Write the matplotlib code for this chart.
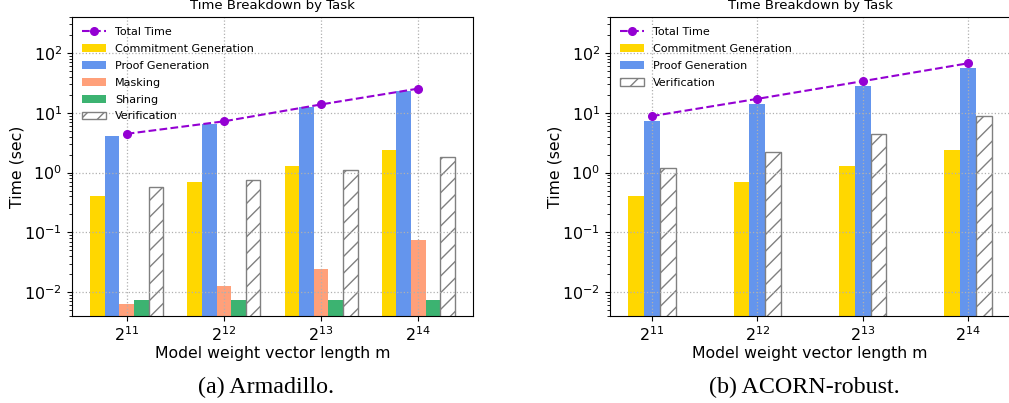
import numpy as np
import matplotlib
matplotlib.use('Agg')
import matplotlib.pyplot as plt

sizes = ['$2^{11}$', '$2^{12}$', '$2^{13}$', '$2^{14}$']

# (a) Armadillo
arm_total = [4.45, 7.2, 13.8, 25.4]
arm_commit = [0.40, 0.69, 1.27, 2.42]
arm_proof = [4.1, 6.6, 12.4, 23.6]
arm_mask = [0.0063, 0.0127, 0.0245, 0.0736]
arm_share = [0.0074, 0.0074, 0.0074, 0.0074]
arm_verif = [0.57, 0.74, 1.11, 1.80]

# (b) ACORN-robust
acorn_total = [8.8, 17.1, 33.8, 67.3]
acorn_commit = [0.40, 0.69, 1.27, 2.42]
acorn_proof = [7.4, 14.1, 28.2, 56.2]
acorn_verif = [1.18, 2.24, 4.4, 8.8]

c_commit = '#FFD700'
c_proof = '#6495ED'
c_mask = '#FFA07A'
c_share = '#3CB371'
c_total = '#9400D3'

W, H = 1009, 403
fig = plt.figure(figsize=(W / 100, H / 100), dpi=100)
ax1 = fig.add_axes([72 / W, 1 - 316 / H, 401 / W, 299 / H])
ax2 = fig.add_axes([610 / W, 1 - 316 / H, 400 / W, 299 / H])

x = np.arange(len(sizes))
w = 0.15

def style(ax):
    ax.set_yscale('log')
    ax.set_ylim(0.004, 400)
    ax.set_xticks(x)
    ax.set_xticklabels(sizes, fontsize=11.5)
    ax.tick_params(axis='y', labelsize=11.5)
    ax.set_xlabel('Model weight vector length m', fontsize=11.3, labelpad=1)
    ax.set_ylabel('Time (sec)', fontsize=11.3)
    ax.yaxis.set_label_coords(-0.118, 0.5)
    ax.set_title('Time Breakdown by Task', fontsize=9.5, pad=6)
    ax.grid(True, linestyle=':', linewidth=0.9, color='#b0b0b0')
    ax.legend(loc='upper left', fontsize=8, frameon=False, labelspacing=0.62, handlelength=2.2)

ax1.plot(x, arm_total, '--o', color=c_total, linewidth=1.5, markersize=5.5, label='Total Time')
ax1.bar(x - 2 * w, arm_commit, w, color=c_commit, label='Commitment Generation')
ax1.bar(x - w, arm_proof, w, color=c_proof, label='Proof Generation')
ax1.bar(x, arm_mask, w, color=c_mask, label='Masking')
ax1.bar(x + w, arm_share, w, color=c_share, label='Sharing')
ax1.bar(x + 2 * w, arm_verif, w, color='white', edgecolor='gray', hatch='//', linewidth=1, label='Verification')
style(ax1)

ax2.plot(x, acorn_total, '--o', color=c_total, linewidth=1.5, markersize=5.5, label='Total Time')
ax2.bar(x - w, acorn_commit, w, color=c_commit, label='Commitment Generation')
ax2.bar(x, acorn_proof, w, color=c_proof, label='Proof Generation')
ax2.bar(x + w, acorn_verif, w, color='white', edgecolor='gray', hatch='//', linewidth=1, label='Verification')
style(ax2)

fig.text(266 / W, 1 - 387 / H, '(a) Armadillo.', family='Liberation Serif', fontsize=17.3, ha='center', va='center')
fig.text(804 / W, 1 - 387 / H, '(b) ACORN-robust.', family='Liberation Serif', fontsize=17.3, ha='center', va='center')

fig.savefig('out.png', dpi=100)
